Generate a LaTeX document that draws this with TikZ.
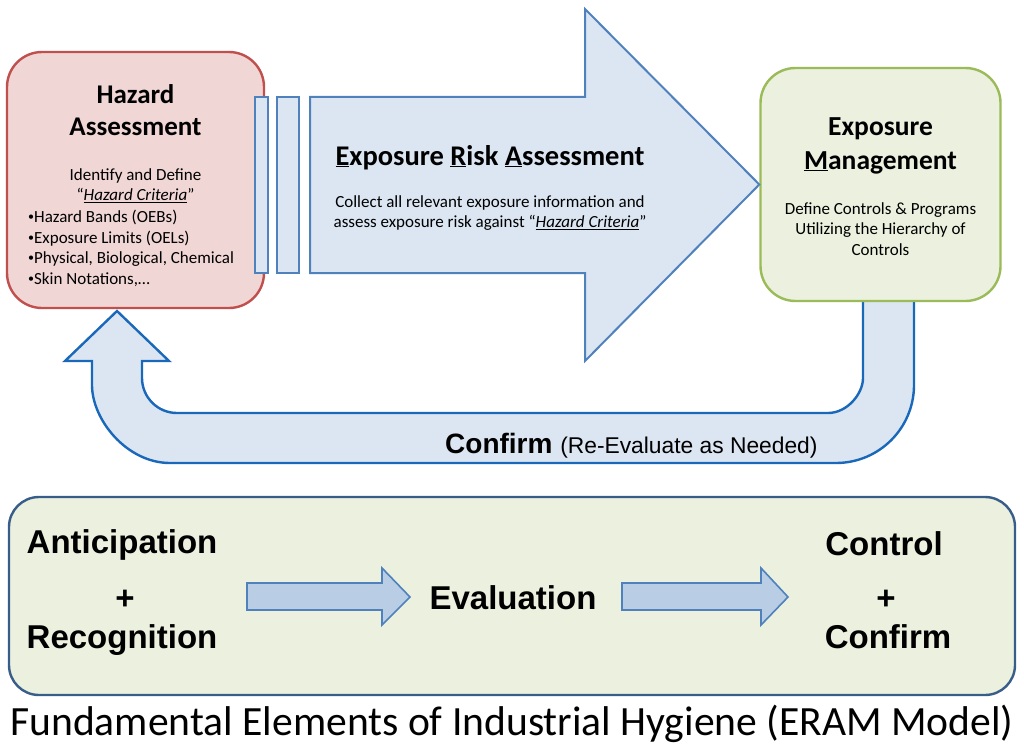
\documentclass[tikz,border=0pt]{standalone}
\usepackage{fontspec}
\setmainfont{Carlito}
\newfontfamily\arialfont{Liberation Sans}
\definecolor{hazardfill}{RGB}{240,214,213}
\definecolor{hazardline}{RGB}{192,80,77}
\definecolor{managefill}{RGB}{235,241,222}
\definecolor{manageline}{RGB}{155,187,89}
\definecolor{flowfill}{RGB}{220,230,242}
\definecolor{flowline}{RGB}{79,129,189}
\definecolor{loopline}{RGB}{26,104,186}
\definecolor{ihline}{RGB}{56,93,138}
\definecolor{stepfill}{RGB}{185,205,229}
\newcommand{\smallbullet}{\raisebox{1.8pt}{\fontsize{12}{12}\selectfont•}}
\tikzset{
  stagebox/.style={draw,rounded corners=35pt,line width=2.4pt,inner sep=0pt},
  headtext/.style={inner sep=0pt,align=center,font=\fontsize{27}{32}\selectfont\bfseries},
  bodytext/.style={inner sep=0pt,align=center,font=\fontsize{17}{20.5}\selectfont},
  ihtext/.style={inner sep=0pt,anchor=base,font=\arialfont\fontsize{33}{38}\selectfont\bfseries},
}
\begin{document}
\begin{tikzpicture}[x=1pt,y=-1pt]
\useasboundingbox (0,0) rectangle (1024,749);
% return loop (Confirm)
\draw[line width=2.4pt,draw=loopline,fill=flowfill] (914,300)--(914,385)
  .. controls (914,428.1) and (879.1,463) .. (836,463)--(170,463)
  .. controls (126.9,463) and (92,419.9) .. (92,385)--(92,361)--(65,361)--(117,311)
  --(169,361)--(142,361)--(142,378)
  .. controls (142,397.3) and (157.7,413) .. (177,413)--(828,413)
  .. controls (847.3,413) and (863,393.7) .. (863,378)--(863,300)--cycle;
% the three stages
\node[stagebox,draw=hazardline,fill=hazardfill,minimum width=257pt,minimum height=256pt] (hazard) at (135.5,180) {};
\node[stagebox,draw=manageline,fill=managefill,minimum width=240pt,minimum height=233pt] (manage) at (880.5,184.5) {};
\foreach \xa/\xb in {255/268,277/299}
  \draw[line width=2pt,draw=flowline,fill=flowfill] (\xa,97) rectangle (\xb,273);
\draw[line width=2pt,draw=flowline,fill=flowfill] (310,97)--(585,97)--(585,9)--(manage.west)
  --(585,361)--(585,273)--(310,273)--cycle;
% texts
\node[headtext,anchor=north] (hazardtitle) at (135.5,84) {Hazard\\Assessment};
\node[bodytext,anchor=north] (hazardsub) at (135.5,168) {Identify and Define\\“\underline{\textit{Hazard Criteria}}”};
\node[bodytext,align=left,anchor=north west] (hazardlist) at (28,210)
  {\smallbullet Hazard Bands (OEBs)\\\smallbullet Exposure Limits (OELs)\\\smallbullet Physical, Biological, Chemical\\\smallbullet Skin Notations,…};
\node[headtext,anchor=north,font=\fontsize{28.5}{32}\selectfont\bfseries] (risktitle) at (490,145)
  {\underline{E}xposure \underline{R}isk \underline{A}ssessment};
\node[bodytext,anchor=north] (riskbody) at (490,195)
  {Collect all relevant exposure information and\\assess exposure risk against “\underline{\textit{Hazard Criteria}}”};
\node[headtext,anchor=north,font=\fontsize{27.5}{34}\selectfont\bfseries] (managetitle) at (880.5,117) {Exposure\\\underline{M}anagement};
\node[bodytext,anchor=north] (managebody) at (880.5,202)
  {Define Controls \& Programs\\Utilizing the Hierarchy of\\Controls};
\node[inner sep=0pt,anchor=base west,font=\arialfont\fontsize{28}{32}\selectfont] (confirm) at (445,453)
  {\textbf{Confirm} {\fontsize{22.8}{26}\selectfont(Re-Evaluate as Needed)}};
% fundamental elements
\node[stagebox,rounded corners=30pt,draw=ihline,fill=managefill,minimum width=1006pt,minimum height=198pt] (ihbox) at (512,596) {};
\node[ihtext] (antic) at (122,553) {Anticipation};
\node[ihtext] (plusa) at (125,609) {+};
\node[ihtext] (recog) at (122,648) {Recognition};
\node[ihtext] (evalu) at (513,609) {Evaluation};
\node[ihtext] (contr) at (884,555) {Control};
\node[ihtext] (plusb) at (886,609) {+};
\node[ihtext] (confi) at (888,648) {Confirm};
\foreach \xs/\xh/\xt in {247/382/410,622/761/788}
  \draw[line width=1.6pt,draw=flowline,fill=stepfill] (\xs,583)--(\xh,583)--(\xh,568)--(\xt,597)
    --(\xh,625)--(\xh,610)--(\xs,610)--cycle;
\node[inner sep=0pt,anchor=base,font=\fontsize{41.6}{48}\selectfont] (caption) at (512,735)
  {Fundamental Elements of Industrial Hygiene (ERAM Model)};
\end{tikzpicture}
\end{document}
